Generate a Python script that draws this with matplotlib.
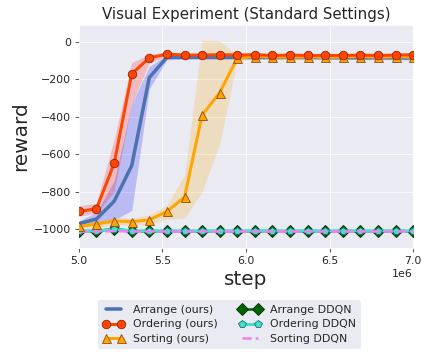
import matplotlib
matplotlib.use("Agg")
import matplotlib.pyplot as plt
import seaborn as sns

sns.set_style("darkgrid")

steps = [5.000e6, 5.105e6, 5.211e6, 5.316e6, 5.421e6, 5.526e6, 5.632e6,
         5.737e6, 5.842e6, 5.947e6, 6.053e6, 6.158e6, 6.263e6, 6.368e6,
         6.474e6, 6.579e6, 6.684e6, 6.789e6, 6.895e6, 7.000e6]

arrange_mean = [-970, -945, -850, -660, -190, -82, -82, -82, -82, -82,
                -82, -82, -82, -82, -83, -83, -84, -84, -84, -86]
arrange_lo = [-985, -975, -950, -900, -250, -95, -92, -92, -92, -92,
              -92, -92, -92, -92, -93, -93, -94, -94, -94, -96]
arrange_hi = [-955, -910, -740, -330, -130, -70, -72, -72, -72, -72,
              -72, -72, -72, -72, -73, -73, -74, -74, -74, -76]

ordering_mean = [-905, -890, -648, -170, -85, -65, -70, -70, -68, -70,
                 -68, -72, -70, -72, -72, -72, -70, -72, -70, -68]
ordering_lo = [-930, -915, -800, -330, -110, -78, -80, -80, -78, -80,
               -78, -82, -80, -82, -82, -82, -80, -82, -80, -78]
ordering_hi = [-875, -860, -520, -110, -65, -55, -60, -60, -58, -60,
               -58, -62, -60, -62, -62, -62, -60, -62, -60, -58]

sorting_mean = [-985, -972, -956, -959, -950, -905, -828, -390, -271, -86,
                -78, -80, -82, -80, -82, -80, -78, -82, -78, -82]
sorting_lo = [-995, -990, -975, -978, -975, -945, -940, -800, -545, -100,
              -90, -92, -94, -92, -94, -92, -90, -94, -90, -94]
sorting_hi = [-975, -955, -935, -940, -925, -870, -710, 10, 5, -70,
              -66, -68, -70, -68, -70, -68, -66, -70, -66, -70]

arrange_ddqn = [-1010, -1010, -997, -1010, -1010, -1010, -1010, -1010, -1010, -1010,
                -1010, -1010, -1010, -1010, -1010, -1010, -1010, -1010, -1010, -1010]
ordering_ddqn = [-1008, -1008, -1000, -1008, -1008, -1008, -1008, -1008, -1008, -1008,
                 -1008, -1008, -1008, -1008, -1008, -1008, -1008, -1008, -1008, -1008]
sorting_ddqn = [-1012, -1012, -1010, -1012, -1012, -1012, -1012, -1012, -1012, -1012,
                -1012, -1012, -1012, -1012, -1012, -1012, -1012, -1012, -1012, -1012]

fig = plt.figure(figsize=(429 / 72, 354 / 72), dpi=72)
ax = fig.add_axes([0.184, 0.2994, 0.779, 0.6296])

ax.fill_between(steps, arrange_lo, arrange_hi, color="blue", alpha=0.2, lw=0)
ax.fill_between(steps, sorting_lo, sorting_hi, color="orange", alpha=0.2, lw=0)
ax.fill_between(steps, ordering_lo, ordering_hi, color="red", alpha=0.2, lw=0)

ax.plot(steps, arrange_ddqn, color="darkgreen", lw=2.5, marker="D", ms=9,
        mec="#0a3a0a", label="Arrange DDQN", zorder=3)
ax.plot(steps, ordering_ddqn, color="turquoise", lw=3, marker="p", ms=8,
        mec="#1a6a66", mew=0.8, label="Ordering DDQN", zorder=4)
ax.plot(steps, sorting_ddqn, color="violet", lw=2.5, ls="--",
        label="Sorting DDQN", zorder=5)

ax.plot(steps, arrange_mean, color="#4c72b0", lw=3.5, label="Arrange (ours)", zorder=6)
ax.plot(steps, sorting_mean, color="orange", lw=3, marker="^", ms=9,
        mec="#8b4513", mew=0.8, label="Sorting (ours)", zorder=7)
ax.plot(steps, ordering_mean, color="orangered", lw=3, marker="o", ms=8.5,
        mec="#8b2500", mew=0.8, label="Ordering (ours)", zorder=8)

ax.set_xlim(5.0e6, 7.0e6)
ax.set_ylim(-1100, 90)
ax.set_xticks([5.0e6, 5.5e6, 6.0e6, 6.5e6, 7.0e6])
ax.set_yticks([0, -200, -400, -600, -800, -1000])
ax.tick_params(labelsize=11, length=4, color="#333333", left=True, bottom=True)
ax.xaxis.get_offset_text().set_fontsize(11)

ax.set_title("Visual Experiment (Standard Settings)", fontsize=15, color="#262626")
ax.set_xlabel("step", fontsize=20, color="#262626")
ax.set_ylabel("reward", fontsize=20, color="#262626")

handles, labels = ax.get_legend_handles_labels()
order = ["Arrange (ours)", "Ordering (ours)", "Sorting (ours)",
         "Arrange DDQN", "Ordering DDQN", "Sorting DDQN"]
hmap = dict(zip(labels, handles))
fig.legend([hmap[k] for k in order], order, ncol=2, loc="upper center",
           bbox_to_anchor=(0.534, 0.167), fontsize=11, frameon=True,
           facecolor="#eaeaf2", edgecolor="#eaeaf2", framealpha=1,
           numpoints=2, handlelength=2.0, handletextpad=0.8,
           columnspacing=1.9, borderpad=0.4, labelspacing=0.42)

fig.savefig("out.png", dpi=72)
